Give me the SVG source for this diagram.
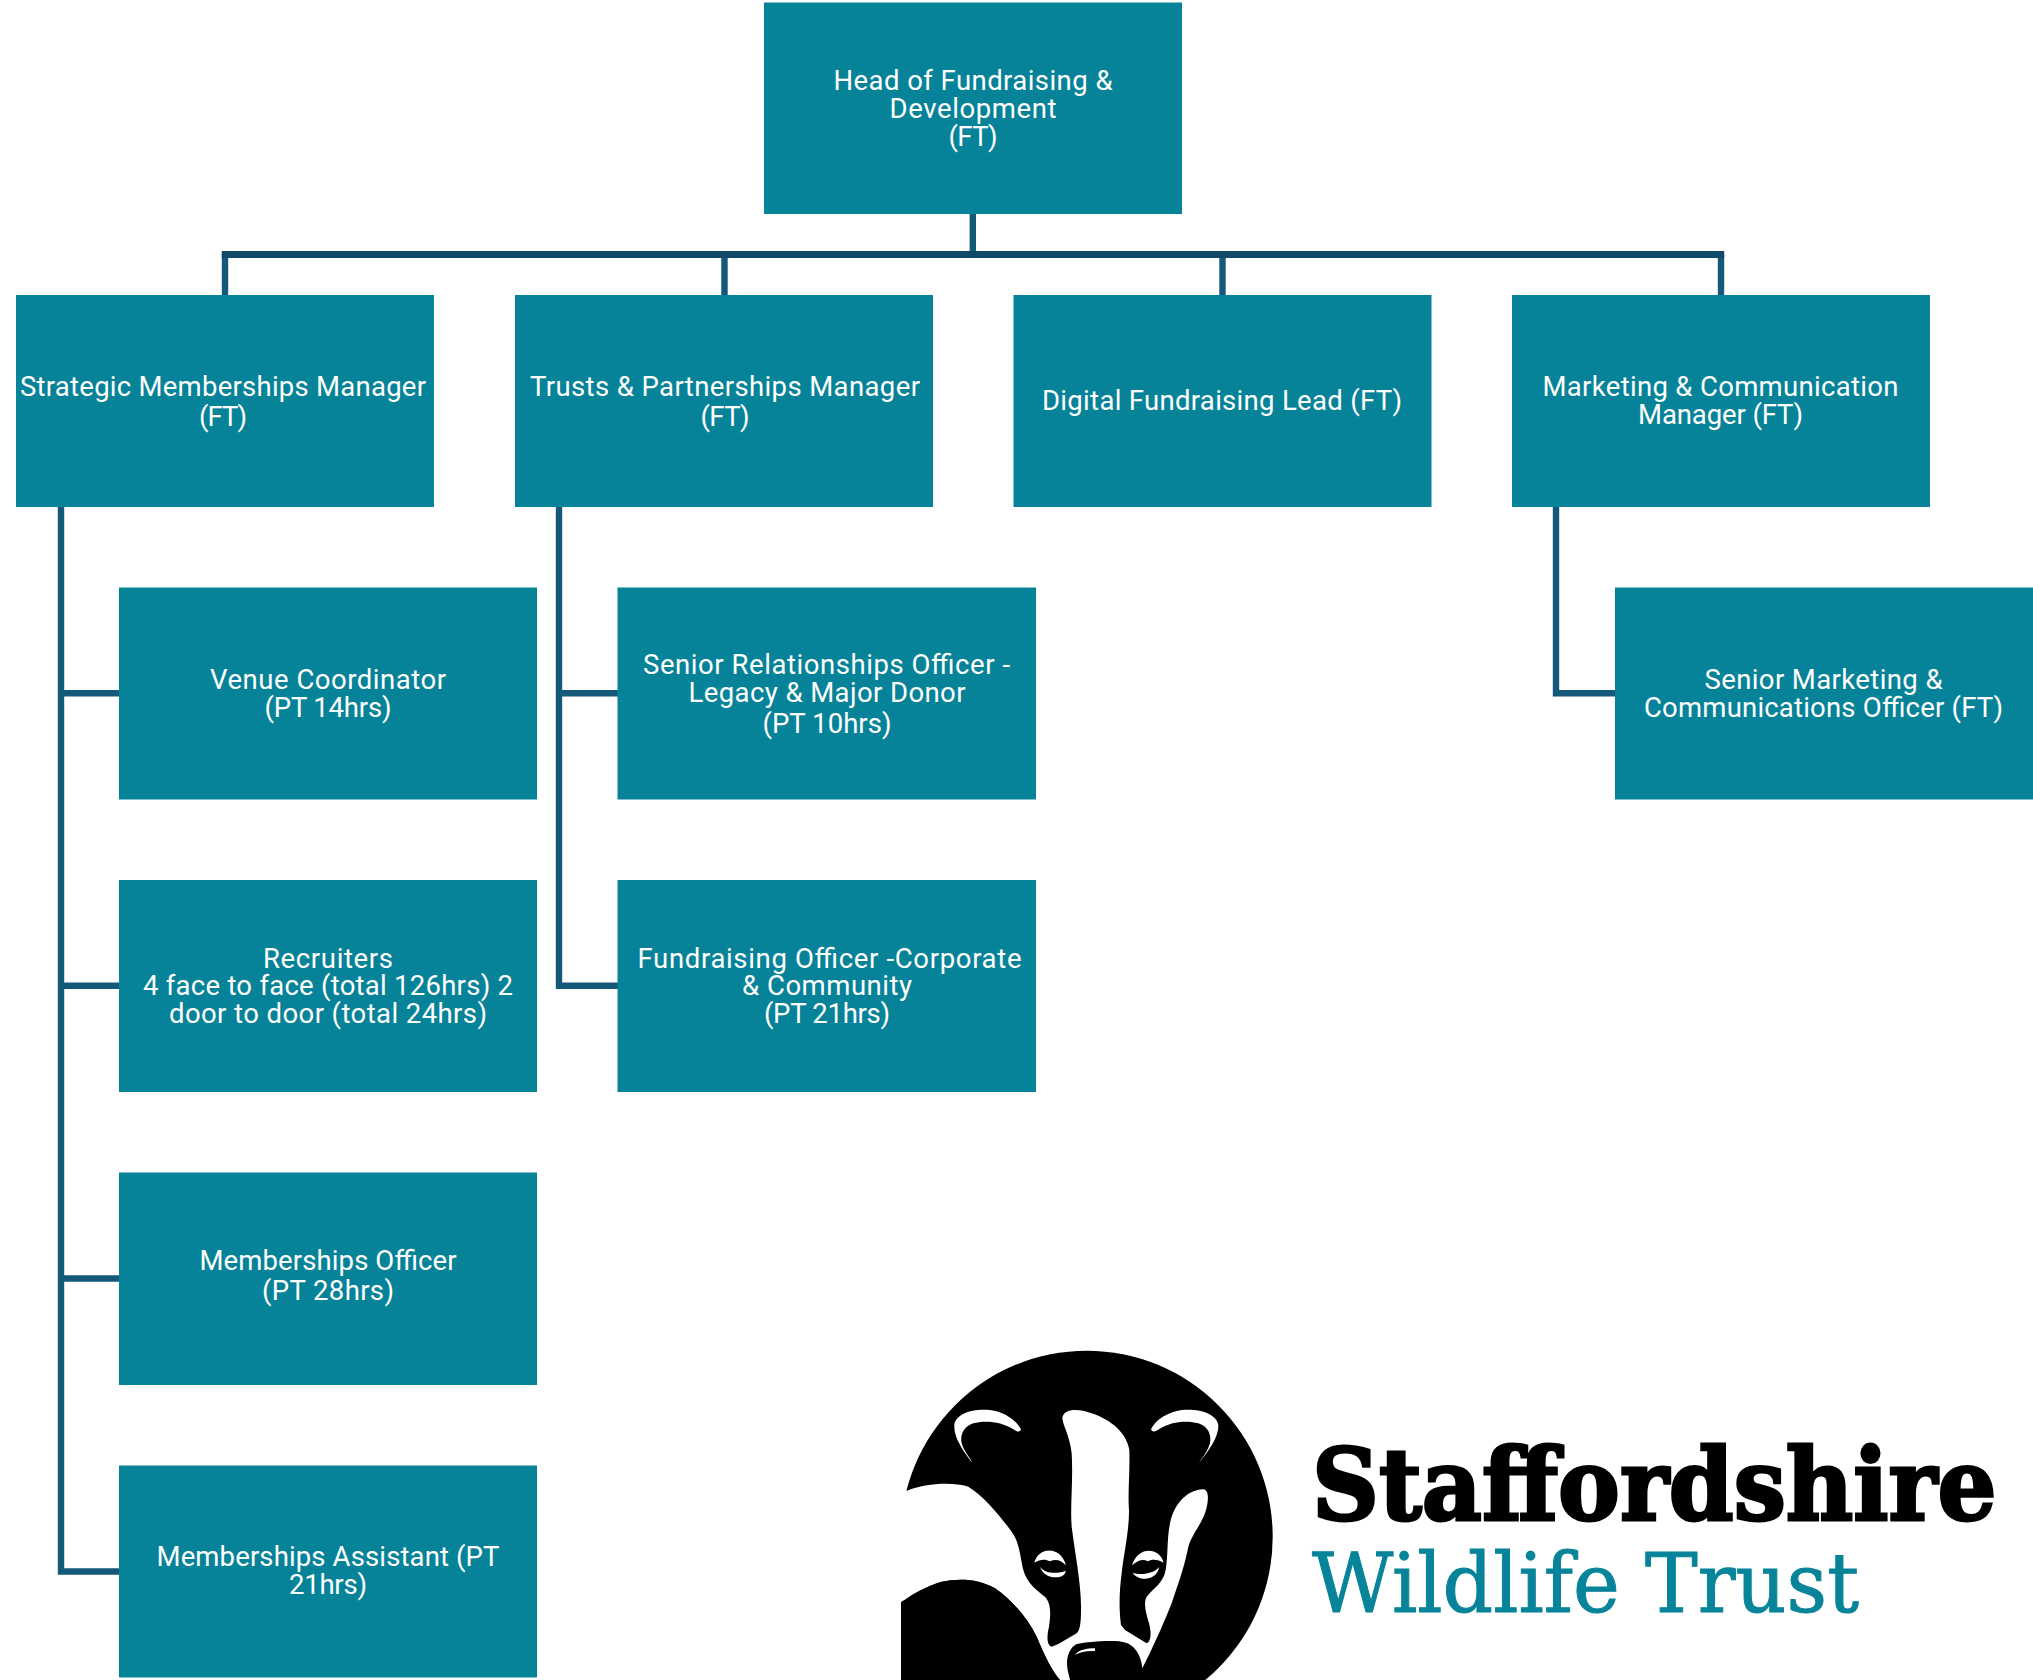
<svg xmlns="http://www.w3.org/2000/svg" width="2033" height="1680" viewBox="0 0 2033 1680">
<style>
.b{fill:#068398}
.t{font-family:Roboto,"Liberation Sans",sans-serif;font-size:27.5px;fill:#fff;text-anchor:middle}
.c{fill:none;stroke:#14587a;stroke-width:6.4}
.bar{fill:none;stroke:#0f4a69;stroke-width:7}
</style>
<defs><clipPath id="lc"><rect x="901" y="1340" width="400" height="340"/></clipPath></defs>
<rect width="2033" height="1680" fill="#fff"/>
<g id="connectors">
<path class="c" d="M972.8 214V257M225 254V295M724.5 254V295M1222.5 254V295M1721 254V295"/>
<path class="bar" d="M221.8 254.5H1724.2"/>
<path class="c" d="M61 507V1571.5H119M61 693.3H119M61 985.8H119M61 1278.5H119"/>
<path class="c" d="M559 507V985.8H618M559 693.3H618"/>
<path class="c" d="M1556 507V693.3H1615"/>
</g>
<g id="n-head"><rect class="b" x="764" y="2.5" width="418" height="211.5"/><text class="t"><tspan x="973" y="90" textLength="279">Head of Fundraising &amp;</tspan><tspan x="973" y="118" textLength="167">Development</tspan><tspan x="973" y="146" textLength="49">(FT)</tspan></text></g>
<g id="n-strategic"><rect class="b" x="16" y="295" width="418" height="212"/><text class="t"><tspan x="223" y="395.5" textLength="406">Strategic Memberships Manager</tspan><tspan x="223" y="426" textLength="48">(FT)</tspan></text></g>
<g id="n-trusts"><rect class="b" x="515" y="295" width="418" height="212"/><text class="t"><tspan x="725" y="395.5" textLength="390">Trusts &amp; Partnerships Manager</tspan><tspan x="725" y="426" textLength="49">(FT)</tspan></text></g>
<g id="n-digital"><rect class="b" x="1013.5" y="295" width="418" height="212"/><text class="t"><tspan x="1222" y="410" textLength="360">Digital Fundraising Lead (FT)</tspan></text></g>
<g id="n-marketing"><rect class="b" x="1512" y="295" width="418" height="212"/><text class="t"><tspan x="1720.5" y="396" textLength="356">Marketing &amp; Communication</tspan><tspan x="1720.5" y="424" textLength="165">Manager (FT)</tspan></text></g>
<g id="n-venue"><rect class="b" x="119" y="587.5" width="418" height="212"/><text class="t"><tspan x="328" y="689" textLength="236">Venue Coordinator</tspan><tspan x="328" y="717" textLength="127">(PT 14hrs)</tspan></text></g>
<g id="n-recruiters"><rect class="b" x="119" y="880" width="418" height="212"/><text class="t"><tspan x="328" y="967.5" textLength="130">Recruiters</tspan><tspan x="328" y="995" textLength="370">4 face to face (total 126hrs) 2</tspan><tspan x="328" y="1023" textLength="318">door to door (total 24hrs)</tspan></text></g>
<g id="n-officer"><rect class="b" x="119" y="1172.5" width="418" height="212.5"/><text class="t"><tspan x="328" y="1269.5" textLength="257">Memberships Officer</tspan><tspan x="328" y="1300" textLength="132">(PT 28hrs)</tspan></text></g>
<g id="n-assistant"><rect class="b" x="119" y="1465.5" width="418" height="212"/><text class="t"><tspan x="328" y="1566" textLength="343">Memberships Assistant (PT</tspan><tspan x="328" y="1594" textLength="78">21hrs)</tspan></text></g>
<g id="n-senior-rel"><rect class="b" x="617.5" y="587.5" width="418.5" height="212"/><text class="t"><tspan x="826.5" y="673.5" textLength="367">Senior Relationships Officer -</tspan><tspan x="827" y="701.5" textLength="277">Legacy &amp; Major Donor</tspan><tspan x="827" y="732.5" textLength="129">(PT 10hrs)</tspan></text></g>
<g id="n-fund-officer"><rect class="b" x="617.5" y="880" width="418.5" height="212"/><text class="t"><tspan x="829.5" y="967.5" textLength="384">Fundraising Officer -Corporate</tspan><tspan x="827" y="995" textLength="170">&amp; Community</tspan><tspan x="827" y="1023" textLength="126">(PT 21hrs)</tspan></text></g>
<g id="n-senior-mkt"><rect class="b" x="1615" y="587.5" width="418" height="212"/><text class="t"><tspan x="1823.5" y="689" textLength="238">Senior Marketing &amp;</tspan><tspan x="1823.5" y="717" textLength="359">Communications Officer (FT)</tspan></text></g>
<g id="logo">
<g clip-path="url(#lc)">
<circle cx="1086.7" cy="1536.7" r="186" fill="#000"/>
<g transform="translate(895 1340) scale(.33333)" fill="#fff">
<path d="M17,455 L36,452 C90,430 170,425 220,440 C270,470 320,535 350,575 C375,610 375,650 385,690 C395,730 430,755 450,770 C468,790 468,820 462,860 C455,890 455,915 470,920 L490,912 L545,880 C555,870 558,850 558,810 C560,740 540,640 530,560 C525,500 535,420 530,340 C525,290 505,260 502,235 C505,205 550,205 590,220 C650,240 695,280 703,330 C705,400 698,460 702,510 C703,570 685,650 680,700 C672,760 672,810 678,855 L690,870 L755,910 C768,905 770,880 762,850 C752,815 745,790 755,770 C775,745 805,730 812,690 C820,640 815,600 825,550 C835,500 870,450 925,448 C945,450 940,490 930,520 C915,560 885,590 878,630 C865,690 850,730 830,790 C810,840 780,910 742,985 C740,950 720,910 680,905 C640,900 580,905 545,912 C520,925 512,960 518,990 L525,1020 L495,1020 C470,990 450,950 425,890 C395,830 350,780 300,745 C250,715 190,715 140,725 C90,740 50,765 17,787 Z"/>
<path fill="#000" d="M17,787 C50,765 90,740 140,725 C190,715 250,715 300,745 C350,780 395,830 425,890 C450,950 470,990 495,1020 L17,1020 Z"/>
<path d="M232,368 C205,335 175,290 178,255 C182,222 230,205 285,210 C325,215 365,240 378,268 C375,278 365,275 355,268 C320,245 270,240 235,250 C205,260 195,285 200,310 C208,335 222,350 232,368 Z"/>
<path d="M912,368 C940,335 972,290 970,255 C965,222 915,205 860,210 C820,215 780,240 768,268 C772,278 782,275 792,268 C825,245 875,240 910,250 C940,260 950,285 945,310 C937,335 925,350 912,368 Z"/>
<path d="M418,668 C430,620 497,616 513,676 C497,660 482,656 465,664 C450,656 435,658 418,668 Z"/>
<path d="M434,678 C445,702 490,702 512,692 C512,718 448,724 434,678 Z"/>
<path d="M711,676 C730,616 794,622 806,668 C790,658 770,656 758,664 C745,656 730,660 711,676 Z"/>
<path d="M713,698 C735,706 775,703 792,681 C788,720 733,728 713,698 Z"/>
<path d="M540,945 C550,930 575,925 600,925 L600,933 C575,932 555,935 540,945 Z"/>
</g>
</g>
<text transform="translate(1312 1520) scale(.937 1)" font-family="'DejaVu Serif',serif" font-weight="700" font-size="99" fill="#000" stroke="#000" stroke-width="3">Staffordshire</text>
<text transform="translate(1312 1612) scale(.965 1)" font-family="'DejaVu Serif',serif" font-size="82" fill="#078499" stroke="#078499" stroke-width="1">Wildlife Trust</text>
</g>
</svg>
